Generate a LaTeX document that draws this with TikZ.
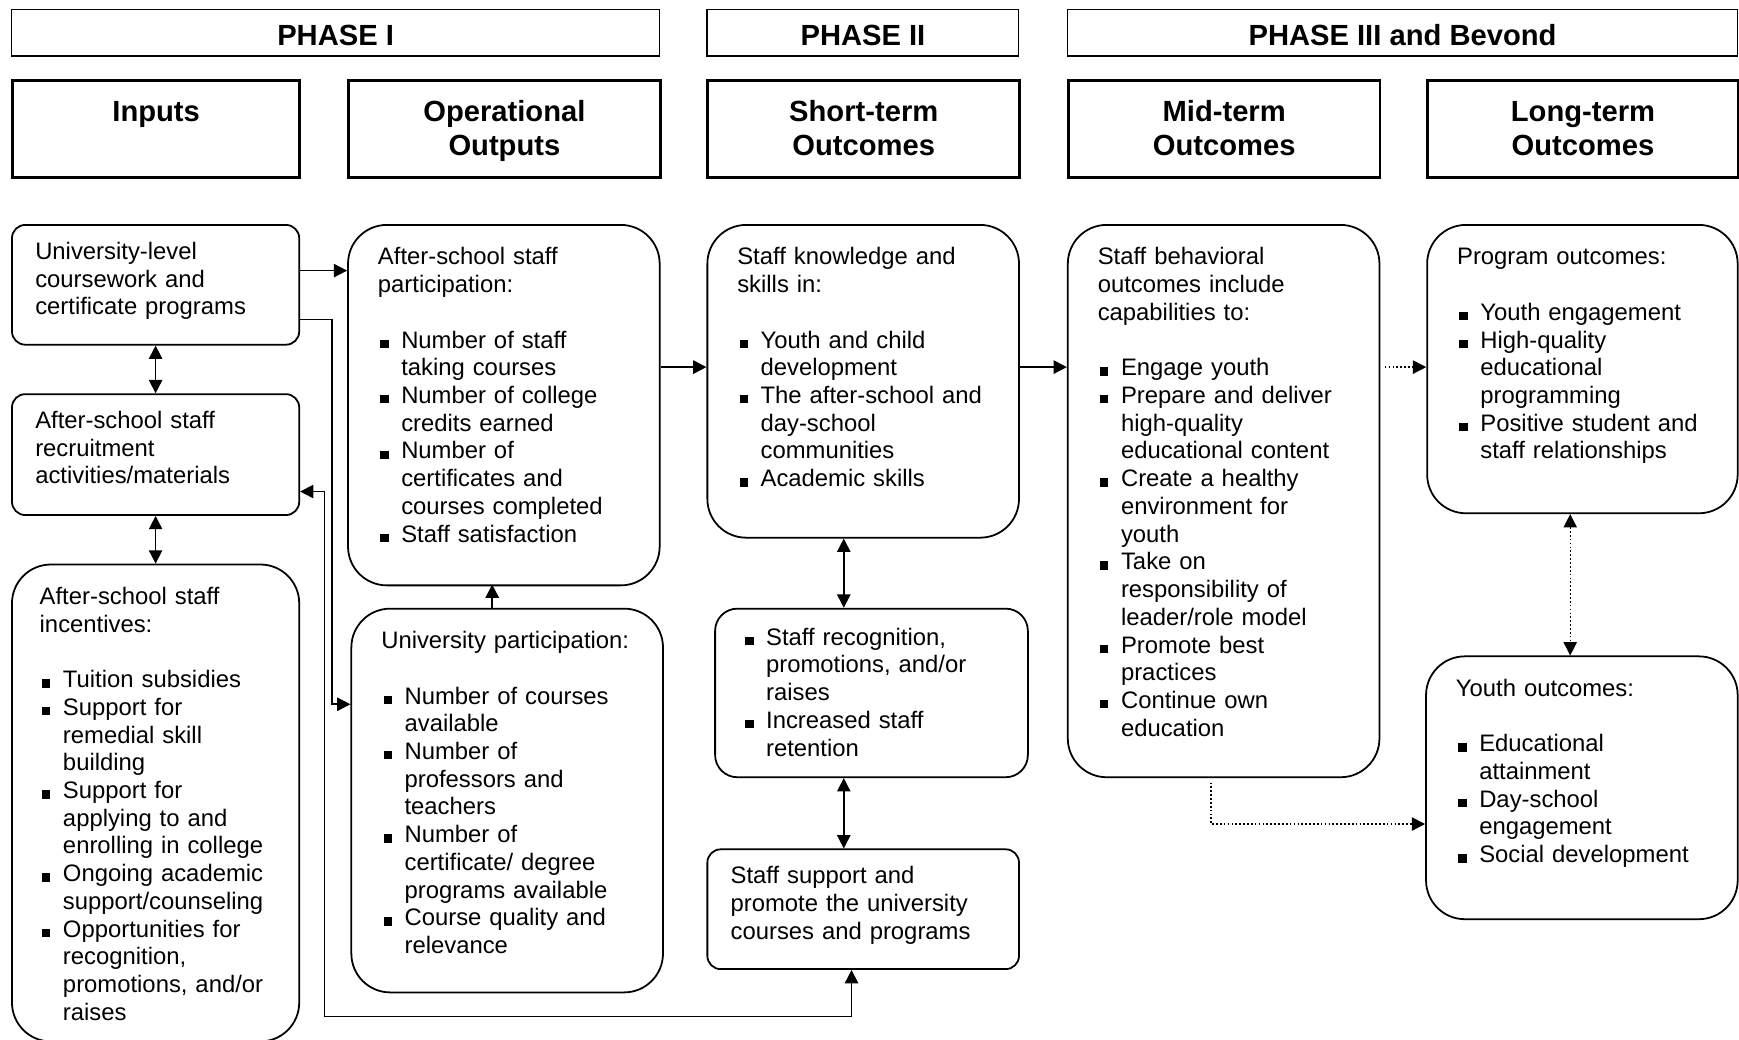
\documentclass[tikz,border=0pt]{standalone}
\usepackage{fontspec}
\setmainfont{Liberation Sans}
\usepackage{tikz}
\usetikzlibrary{arrows.meta, positioning}
\newcommand{\bul}{\hangindent=10.5pt\hangafter=1\makebox[10.5pt][l]{\hspace{1pt}\rule{3.8pt}{3.8pt}}}
\newcommand{\itm}{\par\noindent\bul}
\newcommand{\gap}{\par\vspace{\baselineskip}}
\tikzset{
  phase/.style={rectangle, draw, line width=0.6pt, anchor=north west, minimum height=21pt,
    font=\fontsize{13.15}{15.25}\selectfont\bfseries, text height=11.5pt, text depth=0pt, inner sep=0pt},
  hdr/.style={rectangle, draw, line width=1.3pt, anchor=north west, align=center, text width=132.5pt,
    font=\fontsize{13.15}{15.25}\selectfont\bfseries, text height=9.5pt, text depth=16.5pt,
    inner xsep=4pt, inner ysep=9pt},
  smallbox/.style={rectangle, draw, line width=0.8pt, rounded corners=6pt, anchor=north west,
    align=left, text height=8pt, inner xsep=10.5pt, inner ysep=7.5pt},
  bigbox/.style={rectangle, draw, line width=0.8pt, rounded corners=17.5pt, anchor=north west,
    align=left, text height=8pt, inner xsep=13.5pt, inner ysep=10pt, text width=113.5pt},
  arrow/.style={-{Triangle[length=6pt,width=6pt]}, line width=0.75pt},
  dblarrow/.style={{Triangle[length=6pt,width=6pt]}-{Triangle[length=6pt,width=6pt]}, line width=0.75pt},
  dotarrow/.style={arrow, densely dotted, line width=0.6pt},
  dotdblarrow/.style={dblarrow, densely dotted, line width=0.6pt}
}

\begin{document}
\begin{tikzpicture}[x=0.5pt, y=-0.5pt, font=\fontsize{10.75}{12.5}\selectfont]
  \useasboundingbox (0,0) rectangle (1568,937);

  % Phases
  \node[phase, minimum width=292pt] (ph1) at (10,8) {PHASE I};
  \node[phase, minimum width=140.5pt] (ph2) at (637,8) {PHASE II};
  \node[phase, minimum width=302pt] (ph3) at (962,8) {PHASE III and Bevond};

  % Column headers
  \node[hdr, text width=121.5pt] (inp) at (10,71) {Inputs};
  \node[hdr] (outp) at (313,71) {Operational\\Outputs};
  \node[hdr] (short) at (637,71) {Short-term\\Outcomes};
  \node[hdr] (mid) at (962,71) {Mid-term\\Outcomes};
  \node[hdr, text width=132pt] (long) at (1286,71) {Long-term\\Outcomes};

  % Inputs
  \node[smallbox, text width=108.5pt, text depth=31pt] (univ) at (10,202)
    {University-level\\coursework and\\certificate programs};
  \node[smallbox, text width=108.5pt, text depth=31.5pt, below=21.5pt of univ] (recr)
    {After-school staff\\recruitment\\activities/materials};
  \node[bigbox, text width=104.5pt, inner xsep=12.5pt, text depth=187pt, below=21.5pt of recr] (incent)
    {After-school staff\\incentives:\gap
     \itm Tuition subsidies
     \itm Support for\newline remedial skill\newline building
     \itm Support for\newline applying to and\newline enrolling in college
     \itm Ongoing academic\newline support/counseling
     \itm Opportunities for\newline recognition,\newline promotions, and/or\newline raises\par};

  % Operational outputs
  \node[bigbox, text depth=134.5pt] (spart) at (313,202)
    {After-school staff\\participation:\gap
     \itm Number of staff\newline taking courses
     \itm Number of college\newline credits earned
     \itm Number of\newline certificates and\newline courses completed
     \itm Staff satisfaction\par};
  \node[bigbox, text depth=145pt] (upart) at (316,548)
    {University participation:\gap
     \itm Number of courses\newline available
     \itm Number of\newline professors and\newline teachers
     \itm Number of\newline certificate/ degree\newline programs available
     \itm Course quality and\newline relevance\par};

  % Short-term outcomes
  \node[bigbox, text depth=113pt] (know) at (637,202)
    {Staff knowledge and\\skills in:\gap
     \itm Youth and child\newline development
     \itm The after-school and\newline day-school\newline communities
     \itm Academic skills\par};
  \node[bigbox, rounded corners=10pt, inner xsep=12.5pt, inner ysep=8.5pt, text width=116pt, text depth=51pt] (recog) at (644,548)
    {\bul Staff recognition,\newline promotions, and/or\newline raises
     \itm Increased staff\newline retention\par};
  \node[smallbox, text width=119.5pt, text depth=31pt] (supp) at (637,765)
    {Staff support and\\promote the university\\courses and programs};

  % Mid-term outcomes
  \node[bigbox, text depth=221pt] (behav) at (962,202)
    {Staff behavioral\\outcomes include\\capabilities to:\gap
     \itm Engage youth
     \itm Prepare and deliver\newline high-quality\newline educational content
     \itm Create a healthy\newline environment for\newline youth
     \itm Take on\newline responsibility of\newline leader/role model
     \itm Promote best\newline practices
     \itm Continue own\newline education\par};

  % Long-term outcomes
  \node[bigbox, text width=113pt, text depth=102pt] (prog) at (1286,202)
    {Program outcomes:\gap
     \itm Youth engagement
     \itm High-quality\newline educational\newline programming
     \itm Positive student and\newline staff relationships\par};
  \node[bigbox, text depth=90.5pt] (youth) at (1285,591)
    {Youth outcomes:\gap
     \itm Educational\newline attainment
     \itm Day-school\newline engagement
     \itm Social development\par};

  % Connectors
  \draw[arrow] ([yshift=-21pt]univ.north east) -- ([yshift=-21pt]spart.north west);
  \draw[arrow] ([yshift=-43pt]univ.north east) -- ++(14.5pt,0) |- ([yshift=-43.5pt]upart.north west);
  \draw[dblarrow] ([xshift=-5.25pt]supp.south) -- ++(0,-21pt) -| ([xshift=11pt,yshift=11pt]recr.south east) -- ([yshift=11pt]recr.south east);
  \draw[dblarrow] (univ) -- (recr);
  \draw[dblarrow] (recr) -- (incent);
  \draw[arrow] ([xshift=-6.75pt]upart.north) -- ++(0,10.5pt);
  \draw[arrow] ([yshift=-64.5pt]spart.north east) -- ([yshift=-64.5pt]know.north west);
  \draw[dblarrow] ([xshift=-8.75pt]know.south) -- ([xshift=-12.5pt]recog.north);
  \draw[dblarrow] ([xshift=-12.5pt]recog.south) -- ([xshift=-8.75pt]supp.north);
  \draw[arrow] ([yshift=-64.5pt]know.north east) -- ([yshift=-64.5pt]behav.north west);
  \draw[dotarrow, shorten <=2pt] ([yshift=-64.5pt]behav.north east) -- ([yshift=-64.5pt]prog.north west);
  \draw[dotdblarrow] ([xshift=-5.5pt]prog.south) -- ([xshift=-5.25pt]youth.north);
  \draw[dotarrow, shorten <=2pt] ([xshift=-5.75pt]behav.south) |- ([yshift=-76pt]youth.north west);
\end{tikzpicture}
\end{document}
